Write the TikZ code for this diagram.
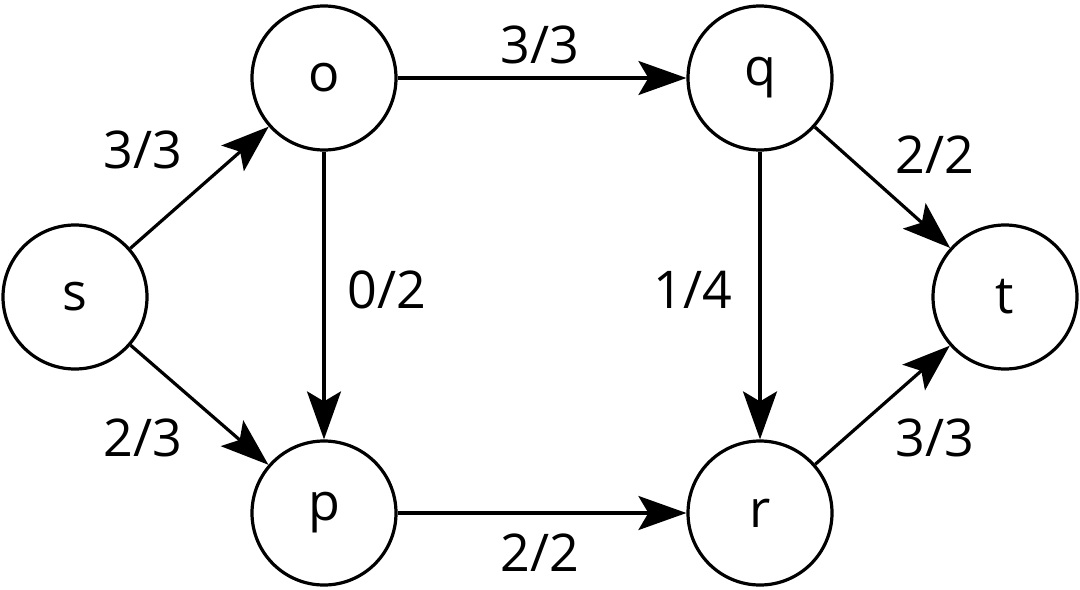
\documentclass[tikz,border=0pt]{standalone}
\usepackage{fontspec}
\setmainfont{Open Sans}
\usetikzlibrary{arrows.meta}

\begin{document}
\begin{tikzpicture}[x=0.5pt,y=-0.5pt,
    vertex/.style={draw, circle, line width=1.6pt, minimum size=72pt, inner sep=0pt, font=\fontsize{26}{31}\selectfont},
    flow/.style={line width=1.6pt, -{Stealth[length=24pt, width=17pt, inset=5pt]}},
    flowlabel/.style={font=\fontsize{26}{31}\selectfont}]

    % Fix the margins to the reference size
    \useasboundingbox (0,0) rectangle (1080,589);

    % Place the vertices of the network
    \node[vertex] (s) at (75,297) {s};
    \node[vertex] (o) at (324,78) {o};
    \node[vertex] (p) at (324,513) {p};
    \node[vertex] (q) at (760,78) {q};
    \node[vertex] (r) at (760,513) {r};
    \node[vertex] (t) at (1005,297) {t};

    % Draw the edges of the network
    \draw[flow] (s) -- (o);
    \draw[flow] (s) -- (p);
    \draw[flow] (o) -- (q);
    \draw[flow] (o) -- (p);
    \draw[flow] (p) -- (r);
    \draw[flow] (q) -- (r);
    \draw[flow] (q) -- (t);
    \draw[flow] (r) -- (t);

    % Place the flow/capacity labels next to the edges
    \node[flowlabel] (so) at (143,150) {3/3};
    \node[flowlabel] (sp) at (143,438) {2/3};
    \node[flowlabel] (oq) at (540,45) {3/3};
    \node[flowlabel] (op) at (387,290) {0/2};
    \node[flowlabel] (pr) at (540,553) {2/2};
    \node[flowlabel] (qr) at (693,290) {1/4};
    \node[flowlabel] (qt) at (935,155) {2/2};
    \node[flowlabel] (rt) at (935,438) {3/3};

\end{tikzpicture}
\end{document}
